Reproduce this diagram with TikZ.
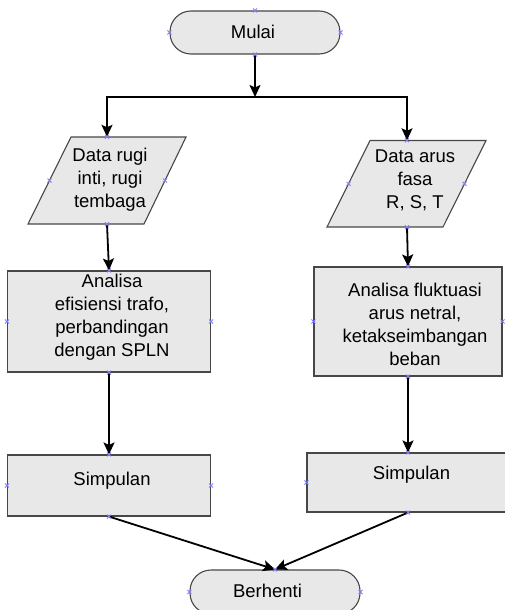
\documentclass[tikz,border=0pt]{standalone}
\usepackage{fontspec}
\setmainfont{Liberation Sans}
\usetikzlibrary{arrows.meta}
\begin{document}
\begin{tikzpicture}[x=1pt,y=-1pt,
  shp/.style={draw=black!72, fill=black!9, line width=1.1pt},
  term/.style={shp, rounded corners=21pt, inner sep=0pt},
  boxn/.style={shp, inner sep=0pt},
  anch/.style={inner sep=0pt, minimum width=1pt},
  txt/.style={font=\fontsize{18.5}{23}\selectfont, align=center, inner sep=0pt},
  arr/.style={line width=1.8pt, -{Stealth[length=12pt,width=11pt,inset=2.5pt]}},
  mk/.style={draw=blue!50!white, line width=0.8pt}]
\useasboundingbox (0,0) rectangle (505,610);

% shapes
\node[term, minimum width=170pt, minimum height=43pt] (start) at (255,32.5) {};
\path[shp] (71,137) -- (186,137) -- (144,224) -- (28,224) -- cycle;
\node[anch, minimum height=87pt] (d1) at (107,180.5) {};
\coordinate (d1w) at (49.5,180.5);
\coordinate (d1e) at (165,180.5);
\path[shp] (370,140.5) -- (486,140.5) -- (443,227) -- (327,227) -- cycle;
\node[anch, minimum height=86.5pt] (d2) at (407,183.75) {};
\coordinate (d2w) at (348.5,183.75);
\coordinate (d2e) at (464.5,183.75);
\node[boxn, minimum width=203pt, minimum height=101pt] (a1) at (109,321.5) {};
\node[boxn, minimum width=188pt, minimum height=109pt] (a2) at (408,321.5) {};
\node[boxn, minimum width=203pt, minimum height=61pt] (s1) at (109,485.5) {};
\node[boxn, minimum width=202pt, minimum height=59pt] (s2) at (408,482.5) {};
\node[term, minimum width=170pt, minimum height=44pt] (stop) at (275,592) {};

% texts
\node[txt] (startt) at (253,32) {Mulai};
\node[txt] (d1t) at (110,180) {Data rugi\\inti, rugi\\tembaga};
\node[txt] (d2t) at (415,180) {Data arus\\fasa\\R, S, T};
\node[txt] (a1t) at (112,317) {Analisa\\efisiensi trafo,\\perbandingan\\dengan SPLN};
\node[txt] (a2t) at (415,324.5) {Analisa fluktuasi\\arus netral,\\ketakseimbangan\\beban};
\node[txt] (s1t) at (112,481) {Simpulan};
\node[txt] (s2t) at (411.5,475) {Simpulan};
\node[txt] (stopt) at (267.5,591) {Berhenti};

% connectors
\coordinate (bm) at (255,97);
\draw[arr] (start.south) -- (bm);
\draw[arr] (bm) -| (d1.north);
\draw[arr] (bm) -| (d2.north);
\draw[arr] (d1.south) -- (a1.north);
\draw[arr] (d2.south) -- (a2.north);
\draw[arr] (a1.south) -- (s1.north);
\draw[arr] (a2.south) -- (s2.north);
\draw[arr] (s1.south) -- (stop.north);
\draw[arr] (s2.south) -- (stop.north);

% connection markers
\foreach \p in {start.north,start.south,start.east,start.west,
  d1.north,d1.south,d1w,d1e,d2.north,d2.south,d2w,d2e,
  a1.north,a1.south,a1.east,a1.west,a2.north,a2.south,a2.east,a2.west,
  s1.north,s1.south,s1.east,s1.west,s2.north,s2.south,s2.east,s2.west,
  stop.north,stop.east,stop.west}
  \draw[mk] (\p) ++(-2,-2) -- ++(4,4) ++(-4,0) -- ++(4,-4);
\end{tikzpicture}
\end{document}
